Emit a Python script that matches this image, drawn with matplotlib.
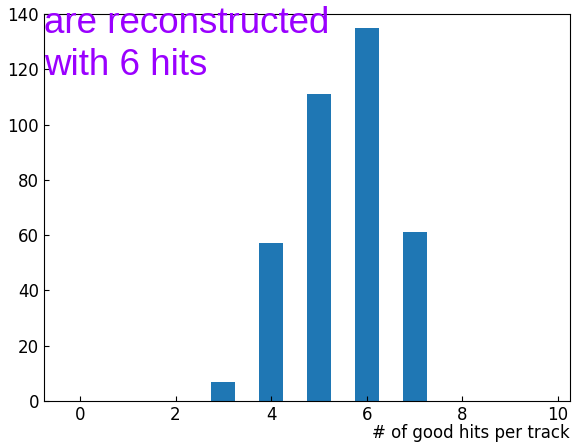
import matplotlib.pyplot as plt

# hits per track histogram
hits = [3, 4, 5, 6, 7]
counts = [7, 57, 111, 135, 61]
xticks = [0, 2, 4, 6, 8, 10]

fig = plt.figure(figsize=(5.74, 4.42), dpi=100)
ax = fig.add_axes([0.0767, 0.0928, 0.9163, 0.8752])

ax.bar(hits, counts, width=0.5, color='#1f77b4')
ax.set_xlim(-0.75, 10.25)
ax.set_ylim(0, 140)
ax.set_xticks(xticks)
ax.tick_params(direction='in', labelsize=12)
ax.set_xlabel('# of good hits per track', fontsize=12, loc='right', labelpad=0)

# annotation text (top lines fall outside the figure in the original)
for y, line in [(0.951, 'are reconstructed'), (0.842, 'with 6 hits')]:
    ax.text(0.0, y, line, transform=ax.transAxes, ha='left', va='baseline',
            fontsize=26.5, color='#9a00ff', family='Liberation Sans', clip_on=False)

fig.savefig('out.png', dpi=100)
